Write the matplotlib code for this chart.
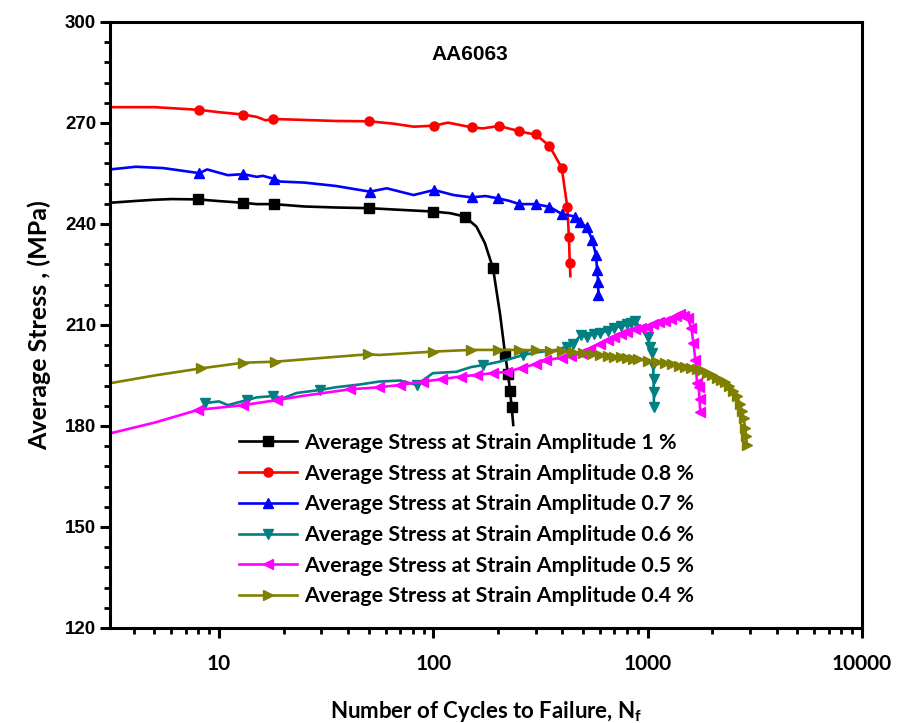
import matplotlib
matplotlib.use("Agg")
import matplotlib.pyplot as plt
from matplotlib.ticker import MultipleLocator, FixedLocator, NullFormatter

plt.rcParams['mathtext.fontset'] = 'custom'
plt.rcParams['mathtext.rm'] = 'Lato:bold'
plt.rcParams['mathtext.it'] = 'Lato:bold'
plt.rcParams['mathtext.bf'] = 'Lato:bold'

# ---- data ----
# 1 % strain amplitude (black, squares)
n_10 = [3.1, 4, 5, 6, 8, 10, 13, 15, 18, 25, 35, 50, 70, 100, 120, 140, 159, 174, 190, 205, 216, 223, 228, 232, 236]
s_10 = [246.3, 246.8, 247.2, 247.4, 247.3, 246.8, 246.3, 245.9, 245.9, 245.2, 244.9, 244.7, 244.2, 243.7, 243.2, 242.2,
        239.2, 234.3, 226.8, 213.0, 201.5, 195.5, 190.5, 185.5, 180.3]
mk_10 = [4, 6, 8, 11, 13, 15, 18, 20, 21, 22, 23]

# 0.8 % (red, circles)
n_08 = [3.1, 5, 8.1, 10, 13, 15, 16.5, 17.9, 25, 35, 50.2, 65, 81, 100.7, 117, 151, 170, 203, 230, 252, 275, 300, 348,
        397, 422, 429, 433, 436]
s_08 = [274.7, 274.7, 273.9, 273.2, 272.5, 271.8, 270.8, 271.2, 270.9, 270.6, 270.5, 269.8, 268.9, 269.2, 270.1, 268.7,
        268.4, 269.1, 268.2, 267.6, 267.0, 266.6, 263.2, 256.7, 245.0, 236.2, 228.5, 224.5]
mk_08 = [2, 4, 7, 10, 13, 15, 17, 19, 21, 22, 23, 24, 25, 26]

# 0.7 % (blue, up triangles)
n_07 = [3.1, 4.1, 5.5, 8.1, 8.8, 11, 13, 15, 16, 18.1, 19.3, 25, 35, 50.6, 60.6, 80.8, 101, 124, 151, 175, 201, 225,
        252, 300, 348, 397, 459, 484, 520, 551, 574, 581, 587, 589]
s_07 = [256.2, 257.0, 256.6, 255.1, 256.2, 254.5, 254.8, 254.0, 254.3, 253.4, 252.6, 252.3, 251.3, 249.6, 250.6, 248.6,
        250.1, 248.6, 247.9, 248.3, 247.6, 246.9, 245.9, 245.9, 245.1, 243.0, 242.2, 240.5, 239.0, 235.3, 230.8, 226.3,
        222.8, 218.9]
mk_07 = [3, 6, 9, 13, 16, 18, 20, 22, 23, 24, 25, 26, 27, 28, 29, 30, 31, 32, 33]

# 0.6 % (teal, down triangles)
n_06 = [8.6, 10, 11, 13.5, 15, 17.9, 20, 23, 29.6, 35, 45, 56, 70, 83.6, 99.5, 128, 150, 171, 200, 230, 263, 300, 340,
        376, 420, 450, 488, 520, 560, 600, 650, 696, 750, 800, 840, 874, 940, 1000, 1030, 1050, 1060, 1065, 1068, 1070]
s_06 = [186.8, 187.3, 186.2, 187.7, 188.5, 188.9, 188.3, 189.8, 190.7, 191.5, 192.3, 193.2, 193.5, 192.2, 195.7, 196.1,
        197.5, 198.1, 199.0, 200.0, 201.1, 201.8, 202.3, 202.6, 203.6, 204.5, 207.0, 206.5, 207.3, 207.5, 208.3, 209.0,
        209.8, 210.3, 210.6, 211.2, 208.5, 206.5, 203.5, 201.6, 198.0, 194.0, 190.0, 185.7]
mk_06 = [0, 3, 5, 8, 13, 17, 20, 24, 25, 26, 27, 28, 29, 30, 31, 32, 33, 34, 35, 37, 38, 39, 40, 41, 42, 43]

# 0.5 % (magenta, left triangles)
n_05 = [3.1, 5, 8, 13, 18.6, 25, 40.9, 56, 70, 89.6, 110, 134, 160, 190, 221, 260, 300, 337, 400, 440, 486, 540, 600,
        650, 696, 750, 800, 870, 930, 990, 1060, 1130, 1200, 1280, 1350, 1413, 1480, 1540, 1600, 1635, 1670, 1700, 1730,
        1745, 1760]
s_05 = [177.8, 181.0, 184.8, 186.2, 187.7, 189.0, 190.9, 191.5, 192.2, 193.2, 193.9, 194.7, 195.2, 195.7, 196.1, 197.3,
        198.4, 199.6, 200.3, 200.9, 201.6, 203.0, 204.5, 205.5, 206.5, 207.4, 208.0, 208.8, 209.2, 209.5, 210.3, 210.8,
        211.2, 211.8, 212.6, 213.3, 212.8, 212.0, 209.0, 204.6, 199.6, 192.7, 191.7, 188.0, 184.3]
mk_05 = list(range(2, 45))
mk_05.remove(5)

# 0.4 % (olive, right triangles)
n_04 = [3.1, 5, 8.2, 13, 18.3, 30, 49.6, 56, 100, 150, 200, 250, 300, 350, 400, 450, 500, 550, 600, 650, 700, 750, 800,
        850, 900, 1000, 1100, 1200, 1300, 1400, 1500, 1600, 1700, 1800, 1900, 2000, 2100, 2200, 2300, 2400, 2500, 2600,
        2700, 2750, 2800, 2850, 2880, 2900]
s_04 = [192.7, 195.0, 197.1, 198.8, 199.1, 200.2, 201.3, 201.1, 202.1, 202.6, 202.6, 202.6, 202.5, 202.4, 202.2, 201.9,
        201.6, 201.3, 201.1, 200.8, 200.6, 200.4, 200.2, 200.0, 199.8, 199.3, 198.9, 198.6, 198.3, 197.9, 197.6, 197.3,
        197.0, 196.5, 195.8, 195.1, 194.4, 193.7, 193.0, 192.0, 190.5, 189.0, 186.5, 184.5, 182.5, 179.5, 177.0, 174.5]
mk_04 = [2, 3, 4, 6] + list(range(8, 48))

series = [
    (n_10, s_10, mk_10, 'black', 's', 'Average Stress at Strain Amplitude 1 %'),
    (n_08, s_08, mk_08, '#ff0000', 'o', 'Average Stress at Strain Amplitude 0.8 %'),
    (n_07, s_07, mk_07, '#0000ff', '^', 'Average Stress at Strain Amplitude 0.7 %'),
    (n_06, s_06, mk_06, '#008080', 'v', 'Average Stress at Strain Amplitude 0.6 %'),
    (n_05, s_05, mk_05, '#ff00ff', '<', 'Average Stress at Strain Amplitude 0.5 %'),
    (n_04, s_04, mk_04, '#808000', '>', 'Average Stress at Strain Amplitude 0.4 %'),
]

fig = plt.figure(figsize=(8.97, 7.23), dpi=100)
ax = fig.add_axes([0.1226, 0.1314, 0.8384, 0.8382])

for n, s, mk, col, m, lab in series:
    ax.plot(n, s, color=col, lw=1.9, marker=m, markersize=6.5, markevery=mk, label=lab)

ax.set_xscale('log')
ax.set_xlim(3.1, 10000)
ax.set_ylim(120, 300)

ax.yaxis.set_major_locator(MultipleLocator(30))
ax.yaxis.set_minor_locator(MultipleLocator(6))
ax.xaxis.set_major_locator(FixedLocator([10, 100, 1000, 10000]))
ax.xaxis.set_minor_formatter(NullFormatter())
ax.set_xticklabels(['10', '100', '1000', '10000'])

for sp in ax.spines.values():
    sp.set_linewidth(2.2)
ax.tick_params(which='major', direction='out', length=7, width=2.2, top=False, right=False)
ax.tick_params(which='minor', direction='out', length=4, width=2.0, top=False, right=False)
ax.tick_params(axis='x', labelsize=15, pad=12)
ax.tick_params(axis='y', labelsize=13.5, pad=3)
for t in ax.get_xticklabels():
    t.set_fontfamily('Lato')
    t.set_fontweight('bold')
for t in ax.get_yticklabels():
    t.set_fontfamily('Liberation Sans')
    t.set_fontweight('bold')

ax.set_xlabel('Number of Cycles to Failure, N$_\\mathrm{f}$', fontsize=16, fontfamily='Lato',
              fontweight='bold', labelpad=18)
ax.set_ylabel('Average Stress , (MPa)', fontsize=18, fontfamily='Lato', fontweight='bold', labelpad=10)

ax.text(0.479, 0.946, 'AA6063', transform=ax.transAxes, ha='center', va='center',
        fontsize=15, fontfamily='Liberation Sans', fontweight='bold')

ax.legend(loc='upper left', bbox_to_anchor=(0.16, 0.336), frameon=False, handlelength=2.7,
          handletextpad=0.33, labelspacing=0.5, borderaxespad=0,
          prop={'family': 'Lato', 'weight': 'bold', 'size': 15.4})

fig.savefig('out.png', dpi=100)
